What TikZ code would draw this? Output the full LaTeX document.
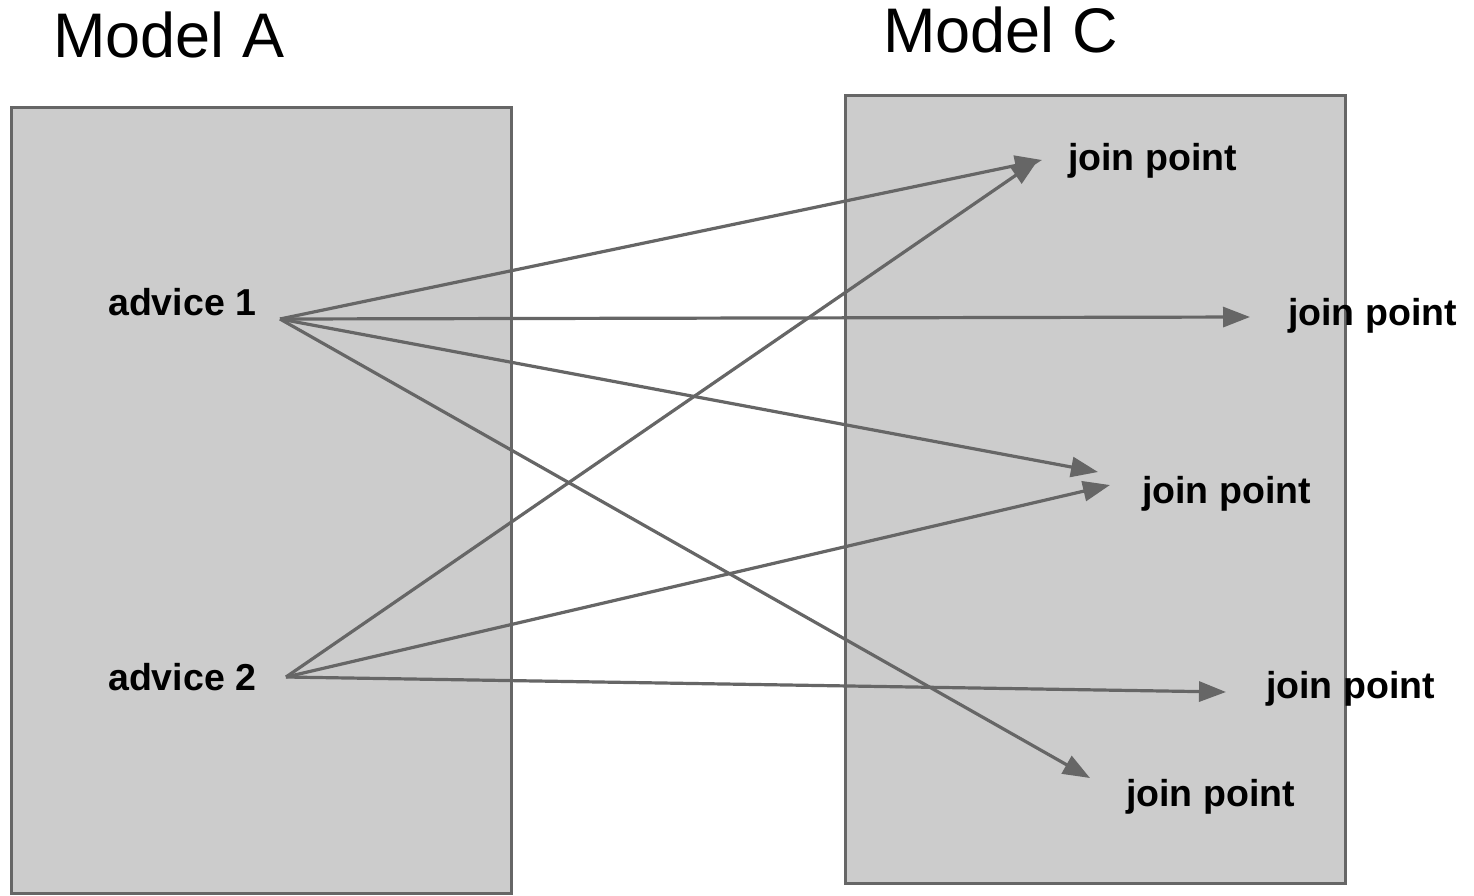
\documentclass[tikz,border=0pt]{standalone}
\usepackage{fontspec}
\setmainfont{Liberation Sans}
\usetikzlibrary{arrows.meta}
\definecolor{edgegray}{HTML}{666666}
\definecolor{boxfill}{HTML}{CCCCCC}
\begin{document}
\begin{tikzpicture}[x=1pt,y=-1pt,
  modelbox/.style={draw=edgegray, fill=boxfill, line width=3pt},
  title/.style={anchor=base west, inner sep=0pt, font=\fontsize{63}{70}\selectfont},
  lbl/.style={anchor=base west, inner sep=0pt, font=\fontsize{37.5}{42}\selectfont\bfseries},
  conn/.style={draw=edgegray, line width=3.2pt, -{Triangle[length=27pt,width=20pt]}}
]
\useasboundingbox (0,0) rectangle (1474,895);
\fill[white] (0,0) rectangle (1474,895);
% boxes
\path[modelbox] (11,107) rectangle (511,893);
\path[modelbox] (845,95) rectangle (1345,883);
% titles
\node[title] (ma) at (53,57) {Model A};
\node[title] (mc) at (883,52) {Model C};
% labels
\node[lbl] (a1) at (108,315) {advice 1};
\node[lbl] (a2) at (108,690) {advice 2};
\node[lbl] (j1) at (1068,170) {join point};
\node[lbl] (j2) at (1288,325) {join point};
\node[lbl] (j3) at (1142,503) {join point};
\node[lbl] (j4) at (1266,698) {join point};
\node[lbl] (j5) at (1126,806) {join point};
% connector ends
\coordinate (s1) at (280,319);
\coordinate (s2) at (286,677);
\coordinate (e11) at (1042,160);
\coordinate (e12) at (1250,317);
\coordinate (e13) at (1098,472);
\coordinate (e15) at (1090,778);
\coordinate (e21) at (1038,160);
\coordinate (e23) at (1110,485);
\coordinate (e24) at (1226,692);
% connectors
\draw[conn] (s1) -- (e11);
\draw[conn] (s1) -- (e12);
\draw[conn] (s1) -- (e13);
\draw[conn] (s1) -- (e15);
\draw[conn] (s2) -- (e21);
\draw[conn] (s2) -- (e23);
\draw[conn] (s2) -- (e24);
\end{tikzpicture}
\end{document}
